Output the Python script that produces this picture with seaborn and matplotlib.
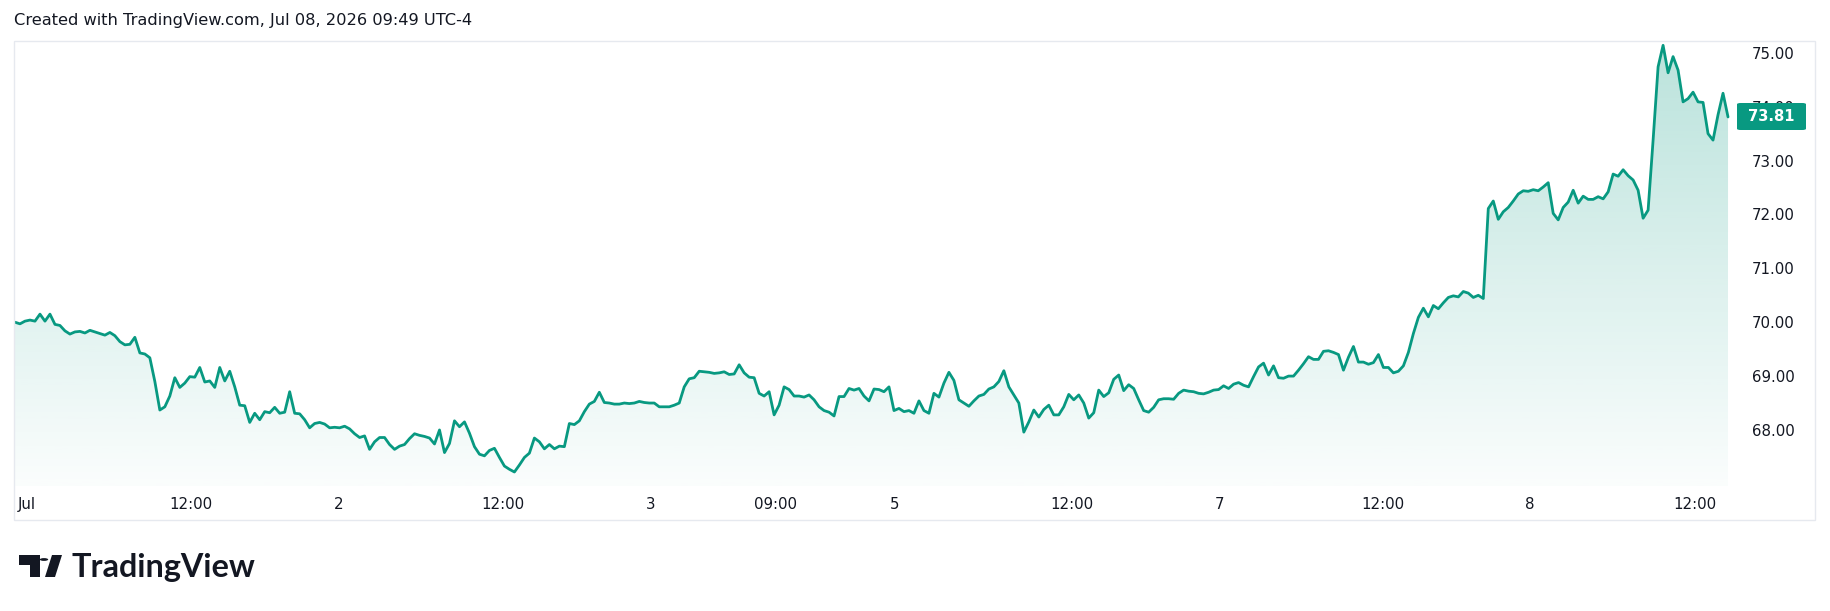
import numpy as np
import pandas as pd
import seaborn as sns
import matplotlib.pyplot as plt
from matplotlib.colors import to_rgb
from matplotlib.patches import Rectangle, Polygon, Circle, FancyBboxPatch

sns.set_style("white")
plt.rcParams['font.family'] = ['DejaVu Sans']

# prices, left to right, one sample every ~5 px of the original
part1 = [70.00, 69.97, 70.02, 70.04, 70.02, 70.15, 70.02, 70.15, 69.96, 69.94,
         69.84, 69.78, 69.82, 69.83, 69.80, 69.85, 69.82, 69.79, 69.76, 69.81,
         69.75, 69.64, 69.58, 69.59, 69.72, 69.43, 69.41, 69.34, 68.90, 68.37,
         68.43, 68.63, 68.97, 68.79, 68.87, 68.99, 68.98, 69.16, 68.89, 68.91,
         68.79, 69.16, 68.91, 69.09, 68.80, 68.46, 68.45, 68.14, 68.31, 68.19,
         68.34, 68.32, 68.42, 68.31, 68.33, 68.71, 68.31, 68.30, 68.19, 68.04,
         68.12, 68.14, 68.11, 68.04, 68.05, 68.04, 68.07, 68.02, 67.93, 67.86,
         67.89, 67.64, 67.78, 67.86, 67.86, 67.73, 67.64, 67.70, 67.73, 67.84,
         67.93, 67.90, 67.88, 67.85]
part2 = [67.74, 68.00, 67.58, 67.75, 68.17, 68.06, 68.15, 67.94, 67.69, 67.55,
         67.52, 67.62, 67.66, 67.49, 67.33, 67.27, 67.22, 67.35, 67.49, 67.57,
         67.85, 67.78, 67.65, 67.73, 67.65, 67.70, 67.69, 68.12, 68.10, 68.17,
         68.34, 68.48, 68.53, 68.70, 68.51, 68.50, 68.48, 68.48, 68.50, 68.49,
         68.50, 68.53, 68.51, 68.50, 68.50, 68.43, 68.43, 68.43, 68.46, 68.50,
         68.80, 68.95, 68.97, 69.09, 69.08, 69.07, 69.05, 69.06, 69.08, 69.03,
         69.04, 69.21, 69.06, 68.98, 68.97, 68.68, 68.63, 68.71, 68.28, 68.46,
         68.80, 68.75, 68.63, 68.63, 68.61, 68.65, 68.56, 68.43, 68.36, 68.33,
         68.26, 68.62, 68.62, 68.77, 68.74, 68.77, 68.63]
part3 = [68.54, 68.76, 68.75, 68.71, 68.80, 68.36, 68.40, 68.34, 68.36, 68.31,
         68.54, 68.36, 68.31, 68.68, 68.61, 68.87, 69.07, 68.92, 68.56, 68.50,
         68.44, 68.54, 68.63, 68.66, 68.76, 68.80, 68.90, 69.10, 68.80, 68.65,
         68.50, 67.96, 68.15, 68.37, 68.24, 68.38, 68.46, 68.28, 68.28, 68.43,
         68.66, 68.56, 68.65, 68.50, 68.22, 68.32, 68.74, 68.62, 68.69, 68.94,
         69.02, 68.73, 68.84, 68.77, 68.56, 68.36, 68.33, 68.42, 68.56, 68.58,
         68.58, 68.57, 68.68, 68.74, 68.72, 68.71, 68.68, 68.67, 68.70, 68.74,
         68.75, 68.82, 68.77, 68.85, 68.88, 68.83, 68.80, 68.99, 69.17, 69.24,
         69.02, 69.19, 68.97, 68.96, 69.00, 69.00]
part4 = [69.11, 69.23, 69.36, 69.31, 69.31, 69.46, 69.47, 69.44, 69.40, 69.11,
         69.35, 69.55, 69.26, 69.26, 69.22, 69.25, 69.40, 69.16, 69.16, 69.06,
         69.09, 69.19, 69.44, 69.79, 70.09, 70.26, 70.10, 70.31, 70.25, 70.36,
         70.46, 70.49, 70.47, 70.57, 70.54, 70.46, 70.50, 70.44, 72.11, 72.25,
         71.91, 72.05, 72.13, 72.25, 72.38, 72.44, 72.43, 72.46, 72.44, 72.51,
         72.59, 72.02, 71.90, 72.13, 72.23, 72.45, 72.21, 72.34, 72.28, 72.28,
         72.33, 72.29, 72.42, 72.75, 72.71, 72.83, 72.72, 72.64, 72.45, 71.93,
         72.08, 73.38, 74.74, 75.14, 74.63, 74.93, 74.68, 74.09, 74.15, 74.27,
         74.09, 74.08, 73.50, 73.38, 73.85, 74.25, 73.81]

last_price = 73.81
price_ticks = [68, 69, 70, 71, 72, 73, 74, 75]
time_labels = ["Jul", "12:00", "2", "12:00", "3", "09:00", "5", "12:00", "7", "12:00", "8", "12:00"]
time_pos = [2.3, 35.2, 64.9, 97.7, 127.2, 152.2, 176.2, 211.7, 241.1, 273.9, 303.4, 336.4]

GREEN = "#089981"
TEXT = "#131722"
W, H = 1830, 611

prices = part1 + part2 + part3 + part4
df = pd.DataFrame({"bar": np.arange(len(prices)), "price": prices})


def fx(px):
    return px / W


def fy(py):
    return 1 - py / H


fig = plt.figure(figsize=(W / 100, H / 100), dpi=100)
fig.patch.set_facecolor("white")

# chart pane
ax = fig.add_axes([fx(15), fy(486), fx(1738) - fx(15), fy(41) - fy(486)])
ylo, yhi = 66.96, 75.22
xmax = 345

area = ax.fill_between(df["bar"], df["price"], ylo, color="none", lw=0)
grad = np.zeros((256, 1, 4))
grad[..., :3] = to_rgb(GREEN)
grad[:, 0, 3] = np.linspace(0.28, 0.02, 256)
img = ax.imshow(grad, extent=[0, xmax, ylo, yhi], aspect="auto", origin="upper", zorder=1)
img.set_clip_path(area.get_paths()[0], transform=ax.transData)

sns.lineplot(data=df, x="bar", y="price", ax=ax, color=GREEN, linewidth=2.0, zorder=3)

ax.set_xlim(0, xmax)
ax.set_ylim(ylo, yhi)
ax.set_xlabel("")
ax.set_ylabel("")
for s in ax.spines.values():
    s.set_visible(False)

ax.yaxis.tick_right()
ax.set_yticks(price_ticks, [f"{v:.2f}" for v in price_ticks])
ax.tick_params(axis="y", length=0, pad=10, labelsize=10.8, colors=TEXT)
ax.set_xticks(time_pos, time_labels)
ax.tick_params(axis="x", length=0, pad=8, labelsize=10.8, colors=TEXT)

# outer frame
fig.add_artist(Rectangle((fx(14), fy(520)), fx(1815) - fx(14), fy(41) - fy(520),
                         transform=fig.transFigure, fill=False, ec="#e6e9ef", lw=1))

# last price badge (drawn over the 74.00 label, as in the original)
fig.add_artist(FancyBboxPatch((fx(1737), fy(130)), fx(1806) - fx(1737), fy(103) - fy(130),
                              boxstyle="round,pad=0,rounding_size=0.002",
                              transform=fig.transFigure, fc=GREEN, ec="none", zorder=5))
fig.text(fx(1771.5), fy(116.5), f"{last_price:.2f}", color="white", fontsize=10.6,
         fontweight="bold", ha="center", va="center", zorder=6)

# header
fig.text(fx(14), fy(20), "Created with TradingView.com, Jul 08, 2026 09:49 UTC-4",
         fontsize=11.7, color=TEXT, ha="left", va="center")

# logo
fig.add_artist(Polygon([(fx(19), fy(555)), (fx(40), fy(555)), (fx(40), fy(577)), (fx(30), fy(577)),
                        (fx(30), fy(565)), (fx(19), fy(565))], closed=True,
                       transform=fig.transFigure, fc=TEXT, ec="none"))
fig.add_artist(Circle((fx(44), fy(559.5)), 4.2 / W, transform=fig.transFigure, fc=TEXT, ec="none"))
fig.add_artist(Polygon([(fx(52), fy(555)), (fx(62), fy(555)), (fx(55), fy(577)), (fx(45), fy(577))],
                       closed=True, transform=fig.transFigure, fc=TEXT, ec="none"))
fig.text(fx(72), fy(567), "TradingView", fontsize=23.3, fontweight="bold", family=["Lato", "DejaVu Sans"],
         color=TEXT, ha="left", va="center")

fig.savefig("out.png", dpi=100, facecolor="white")
